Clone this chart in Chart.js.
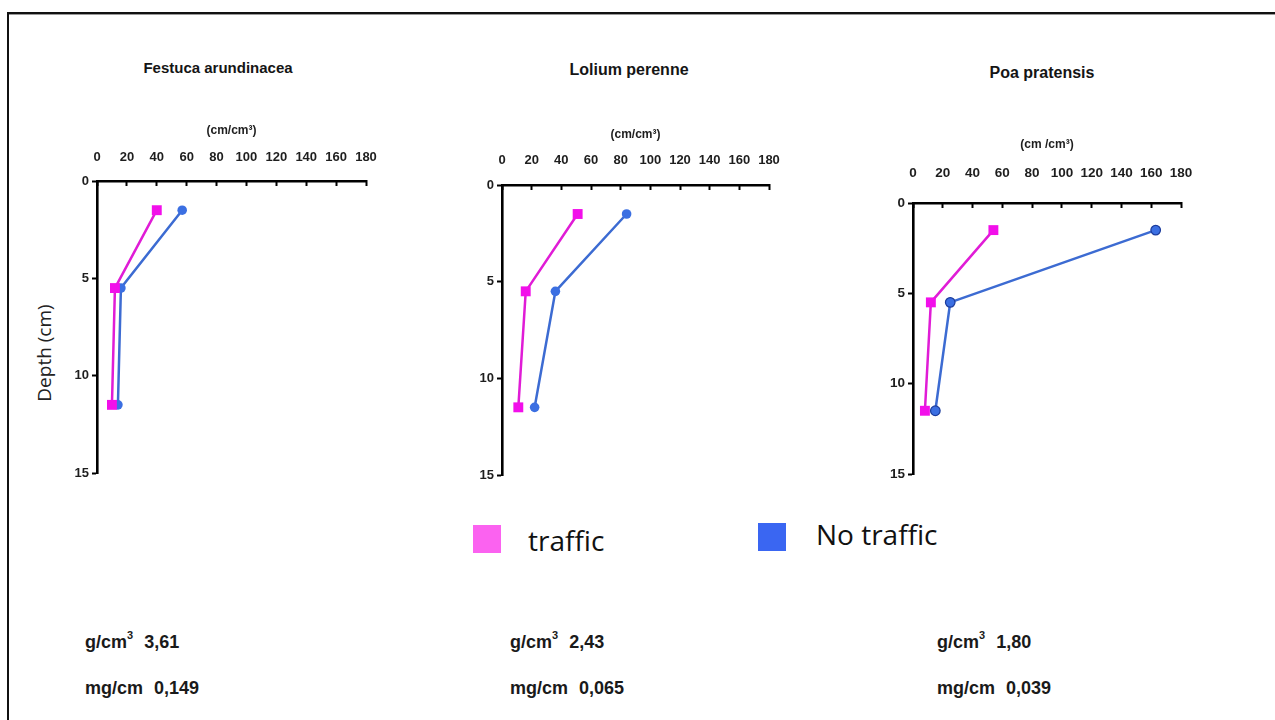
<!DOCTYPE html>
<html>
<head>
<meta charset="utf-8">
<script src="https://cdn.jsdelivr.net/npm/chart.js@4.4.1/dist/chart.umd.min.js"></script>
<style>
  html, body { margin: 0; padding: 0; background: #fff; }
  body { width: 1275px; height: 720px; position: relative; overflow: hidden;
         font-family: 'Liberation Sans', Arial, sans-serif; color: #1a1a1a; }
  .frame { position: absolute; left: 7px; top: 12px; width: 1290px; height: 730px;
           border-top: 2px solid #111; border-left: 2px solid #111; box-shadow: inset 0 1px 0 #999; }
  canvas { position: absolute; }
  .title { position: absolute; font-weight: bold; white-space: nowrap; line-height: 1;
           transform: translate(-50%, -50%); color: #151515; }
  .depth { position: absolute; left: 44px; top: 353px; font-family: 'Open Sans', sans-serif;
           font-size: 19px; line-height: 1; white-space: nowrap; color: #222;
           transform: translate(-50%, -50%) rotate(-90deg); }
  .swatch { position: absolute; width: 28px; height: 28px; }
  .legtext { position: absolute; font-family: 'Open Sans', sans-serif; font-size: 28px;
             line-height: 1; white-space: nowrap; color: #111; }
  .stat { position: absolute; font-weight: bold; font-size: 18px; line-height: 1;
          white-space: nowrap; color: #1a1a1a; }
  .stat sup { font-size: 11px; position: relative; top: -2px; }
  .stat .val { margin-left: 11px; }
</style>
</head>
<body>
<div class="frame"></div>
<div class="depth">Depth (cm)</div>

<script>
// Measurement depths (cm) shared by all three species
const depths = [1.5, 5.5, 11.5];

// Root length density (cm/cm³) per species, trafficked vs. untrafficked plots
const festucaTraffic   = [40, 12, 10];
const festucaNoTraffic = [57, 16, 14];
const loliumTraffic    = [51, 16, 11];
const loliumNoTraffic  = [84, 36, 22];
const poaTraffic       = [54, 12, 8];
const poaNoTraffic     = [163, 25, 15];

const speciesNames = ['Festuca arundinacea', 'Lolium perenne', 'Poa pratensis'];
const unitLabels   = ['(cm/cm³)', '(cm/cm³)', '(cm /cm³)'];
const seriesNames  = ['traffic', 'No traffic'];

// Summary values printed under each panel
const densityValues = ['3,61', '2,43', '1,80'];
const massValues    = ['0,149', '0,065', '0,039'];

const xTicksMax = 180, xStep = 20;
const yTicksMax = 15, yStep = 5;

const trafficSeries   = [festucaTraffic, loliumTraffic, poaTraffic];
const noTrafficSeries = [festucaNoTraffic, loliumNoTraffic, poaNoTraffic];

// Panel plot-area boxes on the page (left, right, top, bottom) plus header spacing
const boxes = [
  { L: 97,  R: 366,  T: 181, B: 473, xH: 60, titlePad: 2.8, tickPad: 21.2, font: 13 },
  { L: 502, R: 769,  T: 185, B: 475, xH: 60, titlePad: 2.8, tickPad: 22.2, font: 13 },
  { L: 913, R: 1181, T: 203, B: 474, xH: 70, titlePad: 4.8, tickPad: 26.2, font: 13.5 }
];
const titlePos = [
  { x: 218, y: 67, size: 15 },
  { x: 629, y: 70, size: 16 },
  { x: 1042, y: 73, size: 16 }
];
const statCols = [85, 510, 937];

const Y_W = 40, PAD_R = 22, PAD_B = 14;
const trafficLine = '#e01cd6', trafficFill = '#f20fea';
const noTrafficLine = '#3c6bd2', noTrafficFill = '#3b6fe2';

function toPoints(values) {
  return values.map((v, i) => ({ x: v, y: depths[i] }));
}

boxes.forEach((b, k) => {
  const canvas = document.createElement('canvas');
  const left = b.L - Y_W;
  const top = b.T - b.xH;
  const w = (b.R - left) + PAD_R;
  const h = (b.B - top) + PAD_B;
  canvas.width = w; canvas.height = h;
  canvas.style.left = left + 'px';
  canvas.style.top = top + 'px';
  canvas.style.width = w + 'px';
  canvas.style.height = h + 'px';
  document.body.appendChild(canvas);

  const tickFont = { family: "'Liberation Sans', Arial, sans-serif", size: b.font, weight: 'bold' };

  new Chart(canvas, {
    type: 'scatter',
    data: {
      datasets: [
        {
          label: seriesNames[0],
          data: toPoints(trafficSeries[k]),
          showLine: true,
          borderColor: trafficLine,
          borderWidth: 2.5,
          pointStyle: 'rect',
          pointRadius: 7,
          pointBackgroundColor: trafficFill,
          pointBorderColor: trafficFill,
          pointBorderWidth: 0,
          order: 0
        },
        {
          label: seriesNames[1],
          data: toPoints(noTrafficSeries[k]),
          showLine: true,
          borderColor: noTrafficLine,
          borderWidth: 2.5,
          pointStyle: 'circle',
          pointRadius: 4.8,
          pointBackgroundColor: noTrafficFill,
          pointBorderColor: k === 2 ? '#1c3c9c' : noTrafficFill,
          pointBorderWidth: k === 2 ? 1.2 : 0,
          order: 1
        }
      ]
    },
    options: {
      responsive: false,
      animation: false,
      devicePixelRatio: 1,
      layout: { padding: { left: 0, top: 0, right: PAD_R, bottom: PAD_B } },
      plugins: { legend: { display: false }, tooltip: { enabled: false }, title: { display: false } },
      scales: {
        x: {
          type: 'linear',
          position: 'top',
          min: 0, max: xTicksMax,
          ticks: { stepSize: xStep, font: tickFont, color: '#1e1e1e', padding: b.tickPad, maxRotation: 0 },
          grid: { drawOnChartArea: false, drawTicks: true, tickLength: -5, color: '#000', tickWidth: 2 },
          border: { display: true, color: '#000', width: 2.6 },
          title: {
            display: true, text: unitLabels[k], color: '#1e1e1e',
            font: { family: "'Liberation Sans', Arial, sans-serif", size: 12, weight: 'bold' },
            padding: { top: b.titlePad, bottom: 0 }
          },
          afterFit(scale) { scale.height = b.xH; scale.paddingLeft = 0; scale.paddingRight = 0; }
        },
        y: {
          type: 'linear',
          reverse: true,
          min: 0, max: yTicksMax,
          ticks: { stepSize: yStep, font: tickFont, color: '#1e1e1e', padding: 3 },
          grid: { drawOnChartArea: false, drawTicks: true, tickLength: 5, color: '#000', tickWidth: 2 },
          border: { display: true, color: '#000', width: 2.6 },
          afterFit(scale) { scale.width = Y_W; scale.paddingTop = 0; scale.paddingBottom = 0; }
        }
      }
    }
  });

  const t = document.createElement('div');
  t.className = 'title';
  t.textContent = speciesNames[k];
  t.style.left = titlePos[k].x + 'px';
  t.style.top = titlePos[k].y + 'px';
  t.style.fontSize = titlePos[k].size + 'px';
  document.body.appendChild(t);

  const s1 = document.createElement('div');
  s1.className = 'stat';
  s1.style.left = statCols[k] + 'px';
  s1.style.top = '632px';
  s1.innerHTML = 'g/cm<sup>3</sup><span class="val">' + densityValues[k] + '</span>';
  document.body.appendChild(s1);

  const s2 = document.createElement('div');
  s2.className = 'stat';
  s2.style.left = statCols[k] + 'px';
  s2.style.top = '679px';
  s2.innerHTML = 'mg/cm<span class="val">' + massValues[k] + '</span>';
  document.body.appendChild(s2);
});

// Legend
const legendItems = [
  { sx: 473, sy: 525, color: '#fb62f0', tx: 528, ty: 526 },
  { sx: 758, sy: 523, color: '#3a66f2', tx: 816, ty: 520 }
];
legendItems.forEach((it, i) => {
  const sw = document.createElement('div');
  sw.className = 'swatch';
  sw.style.left = it.sx + 'px';
  sw.style.top = it.sy + 'px';
  sw.style.background = it.color;
  document.body.appendChild(sw);
  const tx = document.createElement('div');
  tx.className = 'legtext';
  tx.style.left = it.tx + 'px';
  tx.style.top = it.ty + 'px';
  tx.textContent = seriesNames[i];
  document.body.appendChild(tx);
});
</script>
</body>
</html>
